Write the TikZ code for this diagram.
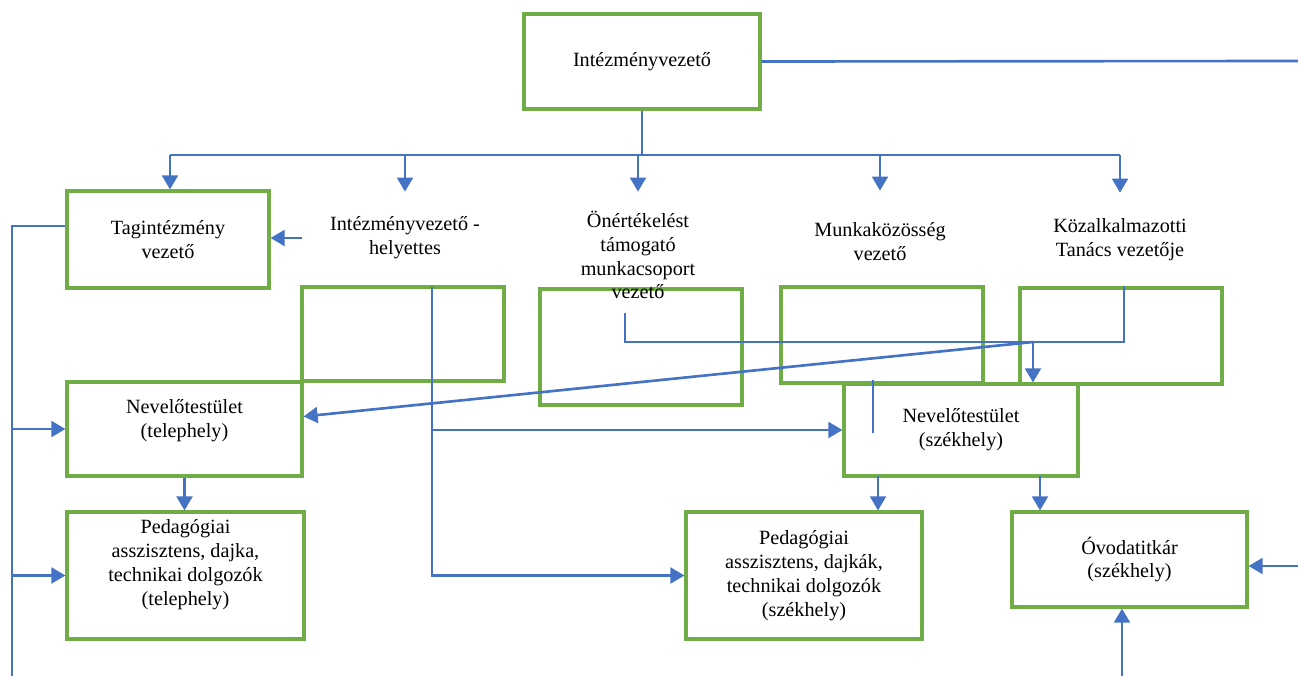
\documentclass[tikz,border=0pt]{standalone}
\usepackage{fontspec}
\setmainfont{Liberation Serif}
\usetikzlibrary{arrows.meta}
\definecolor{boxgreen}{HTML}{70AD47}
\definecolor{linkblue}{HTML}{4472C4}
\begin{document}
\begin{tikzpicture}[x=0.02cm, y=-0.02cm,
    box/.style={draw=boxgreen, line width=1.8pt, align=center, font=\fontsize{11.5}{13.6}\selectfont},
    lbl/.style={align=center, inner sep=0pt, font=\fontsize{11.5}{13.6}\selectfont},
    conn/.style={draw=linkblue, line width=1.5pt},
    arr/.style={conn, -{Triangle[width=9pt, length=8pt]}}]
    \useasboundingbox (0,0) rectangle (1298,676);
    % boxes
    \node[box, minimum width=4.72cm, minimum height=1.9cm] (top) at (642,61.5) {Intézményvezető};
    \node[box, minimum width=4.04cm, minimum height=1.94cm] (tag) at (168,239.5) {Tagintézmény\\vezető};
    \node[box, minimum width=4.04cm, minimum height=1.88cm] (boxA) at (403,334) {};
    \node[box, minimum width=4.04cm, minimum height=2.32cm] (boxB) at (641,347) {};
    \node[box, minimum width=4.04cm, minimum height=1.92cm] (boxC) at (882,335) {};
    \node[box, minimum width=4.04cm, minimum height=1.92cm] (boxD) at (1121,336) {};
    \node[box, minimum width=4.7cm, minimum height=1.88cm, text depth=11.5pt] (nevT) at (184.5,429) {Nevelőtestület\\(telephely)};
    \node[box, minimum width=4.68cm, minimum height=1.84cm] (nevSz) at (961,430) {Nevelőtestület\\(székhely)};
    \node[box, minimum width=4.74cm, minimum height=2.54cm, text depth=15pt] (pedT) at (185.5,575.5) {Pedagógiai\\asszisztens, dajka,\\technikai dolgozók\\(telephely)};
    \node[box, minimum width=4.72cm, minimum height=2.54cm] (pedSz) at (804,575.5) {Pedagógiai\\asszisztens, dajkák,\\technikai dolgozók\\(székhely)};
    \node[box, minimum width=4.7cm, minimum height=1.9cm] (ovoda) at (1129.5,559.5) {Óvodatitkár\\(székhely)};
    % labels without frame
    \node[lbl, minimum width=4.12cm, minimum height=1.84cm] (hely) at (405,238) {Intézményvezető -\\helyettes};
    \node[lbl, minimum width=4cm, minimum height=2.52cm] (onert) at (638,255) {Önértékelést\\támogató\\munkacsoport\\vezető};
    \node[lbl, minimum width=4cm, minimum height=2.04cm] (munka) at (880,242) {Munkaközösség\\vezető};
    \node[lbl, minimum width=4cm, minimum height=1.88cm] (kozalk) at (1120,240) {Közalkalmazotti\\Tanács vezetője};
    % free ends
    \coordinate (busL) at (170,155);
    \coordinate (busR) at (1120,155);
    \coordinate (eR) at (1298,61);
    \coordinate (trunkT) at (12,226);
    \coordinate (trunkB) at (12,676);
    \coordinate (hTop) at (432,287);
    \coordinate (oS) at (625,313);
    \coordinate (kJ) at (1124,342);
    \coordinate (dJ) at (1033,342);
    \coordinate (sT) at (873,380);
    \coordinate (sB) at (873,433);
    \coordinate (a1) at (878,476);
    \coordinate (a2) at (1040,476);
    \coordinate (rE) at (1298,566);
    \coordinate (bE) at (1122,676);
    % connectors
    \draw[conn] (top.east) -- (eR);
    \draw[conn] (top.south) -- (top.south |- busL);
    \draw[conn] (busL) -- (busR);
    \draw[arr] (busL) -- (busL |- tag.north);
    \draw[arr] (hely.north |- busL) -- (hely.north);
    \draw[arr] (onert.north |- busL) -- (onert.north);
    \draw[arr] (munka.north |- busL) -- (munka.north);
    \draw[arr] (busR) -- (kozalk.north);
    \draw[arr] (hely.west) -- (hely.west -| tag.east);
    \draw[conn] (tag.west |- trunkT) -- (trunkT) -- (trunkB);
    \draw[arr] (trunkT |- nevT.west) -- (nevT.west);
    \draw[arr] (trunkT |- pedT.west) -- (pedT.west);
    \draw[arr] (nevT.south) -- (nevT.south |- pedT.north);
    \draw[arr] (hTop) |- (pedSz.west);
    \draw[arr] (hTop |- nevSz.west) -- (nevSz.west);
    \draw[conn] (oS) |- (kJ) -- (kJ |- boxD.north);
    \draw[arr] (dJ) -- (dJ |- nevSz.north);
    \draw[arr] (dJ) -- (nevT.6);
    \draw[conn] (sT) -- (sB);
    \draw[arr] (a1) -- (a1 |- pedSz.north);
    \draw[arr] (a2) -- (a2 |- ovoda.north);
    \draw[arr] (rE) -- (rE -| ovoda.east);
    \draw[arr] (bE) -- (bE |- ovoda.south);
\end{tikzpicture}
\end{document}
